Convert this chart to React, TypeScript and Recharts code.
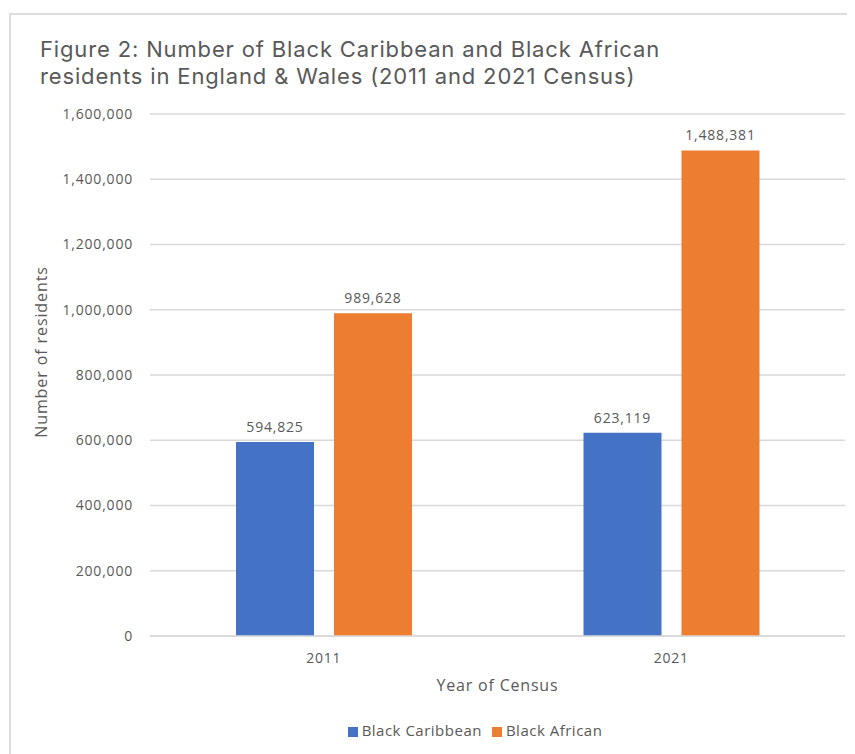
import { Bar, BarChart, CartesianGrid, Label, LabelList, Legend, XAxis, YAxis } from 'recharts';

const years = ['2011', '2021'];
const blackCaribbean = [594825, 623119];
const blackAfrican = [989628, 1488381];
const yTicks = [0, 200000, 400000, 600000, 800000, 1000000, 1200000, 1400000, 1600000];

const titleLines = [
  'Figure 2: Number of Black Caribbean and Black African',
  'residents in England & Wales (2011 and 2021 Census)',
];

const chartData = years.map((year, i) => ({
  year,
  caribbean: blackCaribbean[i],
  african: blackAfrican[i],
}));

const FONT = '"Open Sans", sans-serif';
const GREY = '#595959';

const fmt = (v: any) => Number(v).toLocaleString('en-GB');

const YTitle = (props: any) => {
  const vb = props.viewBox;
  const cx = vb.x + 21;
  const cy = vb.y + vb.height / 2 - 23;
  return (
    <text
      x={cx}
      y={cy}
      transform={`rotate(-90, ${cx}, ${cy})`}
      textAnchor="middle"
      dominantBaseline="central"
      fill={GREY}
      fontSize={16}
      letterSpacing={0.9}
      fontFamily={FONT}
    >
      Number of residents
    </text>
  );
};

const XTitle = (props: any) => {
  const vb = props.viewBox;
  return (
    <text
      x={vb.x + vb.width / 2}
      y={vb.y + 55}
      textAnchor="middle"
      fill={GREY}
      fontSize={16}
      letterSpacing={0.8}
      fontFamily={FONT}
    >
      Year of Census
    </text>
  );
};

const tickStyle = { fill: GREY, fontSize: 14, fontFamily: FONT, letterSpacing: 0.8 };

const App = () => {
  return (
    <div style={{ position: 'relative', width: 847, height: 746, fontFamily: FONT }}>
      <div
        style={{
          position: 'absolute',
          left: 1,
          top: 5,
          width: 846,
          height: 741,
          borderTop: '2px solid #dedede',
          borderLeft: '2px solid #dedede',
          boxSizing: 'border-box',
        }}
      />
      {/* title: Inter keeps the two 27px lines from overlapping */}
      <div
        style={{
          position: 'absolute',
          left: 32,
          top: 28,
          fontFamily: 'Inter, sans-serif',
          fontSize: 22,
          lineHeight: '27px',
          letterSpacing: 0.85,
          color: GREY,
          whiteSpace: 'nowrap',
        }}
      >
        {titleLines.map((l) => (
          <div key={l}>{l}</div>
        ))}
      </div>
      <BarChart
        width={847}
        height={746}
        data={chartData}
        margin={{ top: 106, right: 10, left: 12, bottom: 58 }}
        barSize={78}
        barGap={20}
        style={{ position: 'absolute', left: 0, top: 0 }}
      >
        <CartesianGrid vertical={false} stroke="#d9d9d9" strokeWidth={1.5} />
        <XAxis
          dataKey="year"
          height={60}
          tickLine={false}
          tickSize={0}
          tickMargin={17}
          axisLine={{ stroke: '#d9d9d9', strokeWidth: 1.5 }}
          tick={tickStyle}
          label={<Label content={XTitle} />}
        />
        <YAxis
          width={130}
          domain={[0, 1600000]}
          ticks={yTicks}
          interval={0}
          tickLine={false}
          axisLine={false}
          tickSize={0}
          tickMargin={17}
          tickFormatter={fmt}
          tick={tickStyle}
          label={<Label content={YTitle} />}
        />
        <Legend
          verticalAlign="middle"
          align="center"
          layout="horizontal"
          iconType="square"
          iconSize={10}
          itemSorter={(item: any) => (item.dataKey === 'caribbean' ? 0 : 1)}
          wrapperStyle={{ top: 712, left: 172, width: 600, fontSize: 15, letterSpacing: 0.5, fontFamily: FONT }}
          formatter={(value: any) => <span style={{ color: GREY }}>{value}</span>}
        />
        <Bar dataKey="caribbean" name="Black Caribbean" fill="#4472C4" isAnimationActive={false}>
          <LabelList dataKey="caribbean" position="top" offset={10} fill={GREY} fontSize={14} letterSpacing={0.8} fontFamily={FONT} formatter={fmt} />
        </Bar>
        <Bar dataKey="african" name="Black African" fill="#ED7D31" isAnimationActive={false}>
          <LabelList dataKey="african" position="top" offset={10} fill={GREY} fontSize={14} letterSpacing={0.8} fontFamily={FONT} formatter={fmt} />
        </Bar>
      </BarChart>
    </div>
  );
};

export default App;
